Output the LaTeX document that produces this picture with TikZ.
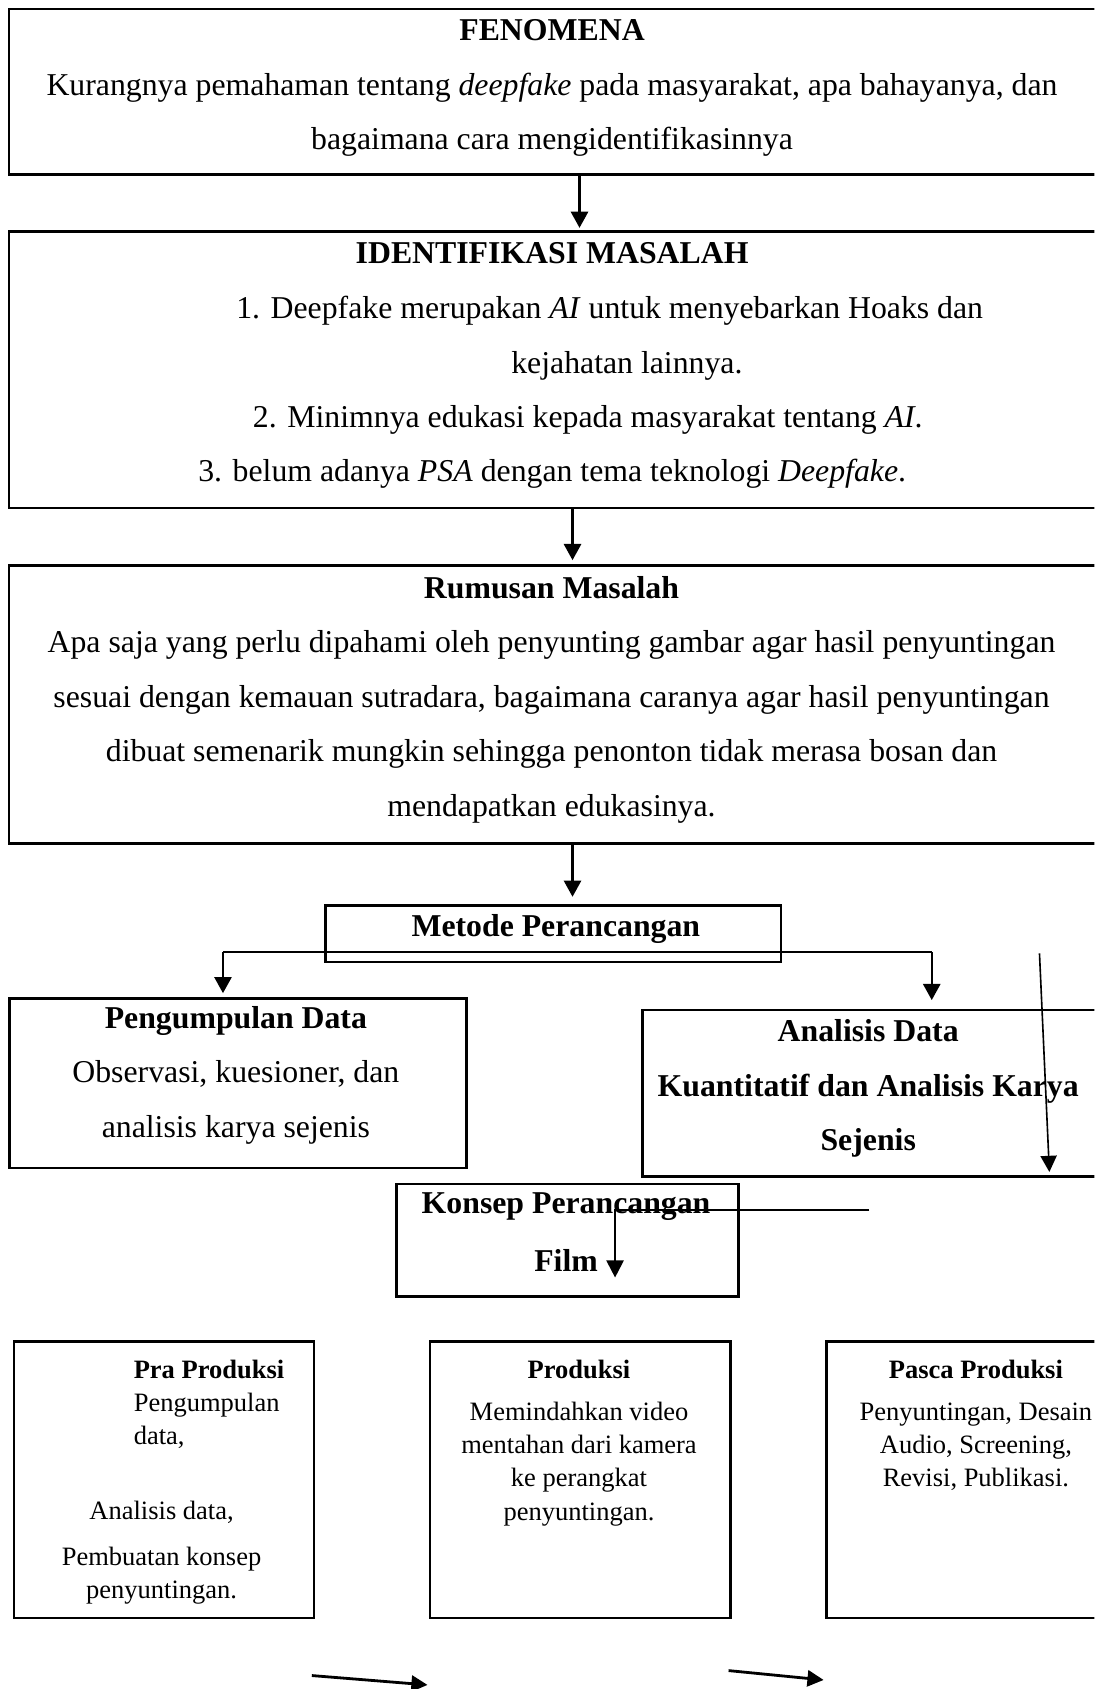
\documentclass[tikz,border=0pt]{standalone}
\usepackage{fontspec}
\setmainfont{Liberation Serif}
\usepackage{tikz}
\usetikzlibrary{arrows.meta, calc}
\tikzstyle{box} = [rectangle, draw=black, line width=2.4pt, inner sep=0pt, anchor=north west]
\tikzstyle{bigtext} = [inner sep=0pt, align=center, font=\fontsize{29.5}{50.5}\selectfont]
\tikzstyle{smalltext} = [inner sep=0pt, align=center, font=\fontsize{24.6}{31}\selectfont]
\tikzstyle{arrow} = [line width=2pt, -{Triangle[length=15pt, width=16pt]}]
\tikzstyle{line} = [line width=2pt]

\begin{document}
\begin{tikzpicture}[x=1pt, y=-1pt]
\useasboundingbox (0,0) rectangle (1016,1568);
\clip (0,0) rectangle (1016,1568);

\node (fenomena) [box, minimum width=1018pt, minimum height=154pt] at (7,7) {};
\node (identifikasi) [box, minimum width=1018pt, minimum height=257pt] at (7,213.5) {};
\node (rumusan) [box, minimum width=1018pt, minimum height=258pt] at (7,524) {};
\node (metode) [box, minimum width=423pt, minimum height=52.5pt] at (301,839.5) {};
\node (pengumpulan) [box, minimum width=424pt, minimum height=157pt] at (7.8,926) {};
\node (analisis) [box, minimum width=430pt, minimum height=154.6pt] at (595,936.4) {};
\node (konsep) [box, minimum width=317.5pt, minimum height=104.6pt] at (367,1098) {};
\node (pra) [box, minimum width=278.6pt, minimum height=256.3pt] at (11.7,1244.4) {};
\node (produksi) [box, minimum width=279.2pt, minimum height=256.3pt] at (398,1244.4) {};
\node (pasca) [box, minimum width=279pt, minimum height=256.3pt] at (766,1244.4) {};

% isi kotak
\node (fenomenatext) [bigtext, anchor=north] at (512.5,18) {\textbf{FENOMENA}\\Kurangnya pemahaman tentang \textit{deepfake} pada masyarakat, apa bahayanya, dan\\bagaimana cara mengidentifikasinnya};
\node (idtitle) [bigtext, anchor=base] at (512.6,245) {\textbf{IDENTIFIKASI MASALAH}};
\node (idsatu) [bigtext, anchor=base] at (566,296) {1. Deepfake merupakan \textit{AI} untuk menyebarkan Hoaks dan};
\node (idsatub) [bigtext, anchor=base] at (582,346.5) {kejahatan lainnya.};
\node (iddua) [bigtext, anchor=base] at (545.7,397) {2. Minimnya edukasi kepada masyarakat tentang \textit{AI}.};
\node (idtiga) [bigtext, anchor=base] at (512.6,447) {3. belum adanya \textit{PSA} dengan tema teknologi \textit{Deepfake}.};
\node (rumusantext) [bigtext, anchor=north] at (512,535) {\textbf{Rumusan Masalah}\\Apa saja yang perlu dipahami oleh penyunting gambar agar hasil penyuntingan\\sesuai dengan kemauan sutradara, bagaimana caranya agar hasil penyuntingan\\dibuat semenarik mungkin sehingga penonton tidak merasa bosan dan\\mendapatkan edukasinya.};
\node (metodetext) [bigtext, anchor=base] at (516,869) {\textbf{Metode Perancangan}};
\node (pengumpulantext) [bigtext, anchor=north] at (219,934) {\textbf{Pengumpulan Data}\\Observasi, kuesioner, dan\\analisis karya sejenis};
\node (analisistext) [bigtext, anchor=north] at (806,946.4) {\textbf{Analisis Data}\\\textbf{Kuantitatif dan Analisis Karya}\\\textbf{Sejenis}};
\node (konseptext) [bigtext, anchor=north] at (525.5,1107.3) {\textbf{Konsep Perancangan}\\[3pt]\textbf{Film}};
\node (pratext) [smalltext, align=left, anchor=north west] at (124,1262) {\textbf{Pra Produksi}\\Pengumpulan\\data,};
\node (pratextb) [smalltext, anchor=north] at (150,1393) {Analisis data,\\[12pt]Pembuatan konsep\\penyuntingan.};
\node (produksitext) [smalltext, anchor=north] at (537.5,1262) {\textbf{Produksi}\\[8pt]Memindahkan video\\mentahan dari kamera\\ke perangkat\\penyuntingan.};
\node (pascatext) [smalltext, anchor=north] at (906,1262) {\textbf{Pasca Produksi}\\[8pt]Penyuntingan, Desain\\Audio, Screening,\\Revisi, Publikasi.};

% panah
\coordinate (xa) at (538,0);
\coordinate (xb) at (531.5,0);
\draw [arrow, shorten >=2pt] (fenomena.south -| xa) -- (identifikasi.north -| xa);
\draw [arrow, shorten >=4pt] (identifikasi.south -| xb) -- (rumusan.north -| xb);
\draw [arrow, shorten >=7pt] (rumusan.south -| xb) -- (metode.north -| xb);

\coordinate (splitkiri) at (207,884);
\coordinate (splitkanan) at (865,884);
\draw [line] (splitkiri) -- (splitkanan);
\draw [arrow, shorten >=4pt] (splitkiri) -- (splitkiri |- pengumpulan.north);
\draw [arrow, shorten >=8pt] (splitkanan) -- (splitkanan |- analisis.north);

\coordinate (miringatas) at (965,885);
\coordinate (miringbawah) at (974.2,1088);
\draw [line width=1.5pt, -{Triangle[length=15pt, width=15pt]}] (miringatas) -- (miringbawah);

\coordinate (konsepkanan) at (807,1123);
\coordinate (konsepbelok) at (571,1123);
\coordinate (konsepujung) at (571,1186);
\draw [line width=2pt, -{Triangle[length=16pt, width=16pt]}] (konsepkanan) -- (konsepbelok) -- (konsepujung);

\coordinate (bawahsatu) at (289.5,1555.5);
\coordinate (bawahsatuujung) at (396.9,1564.2);
\coordinate (bawahdua) at (676.4,1550.9);
\coordinate (bawahduaujung) at (764.6,1559.6);
\draw [line width=2.6pt, -{Triangle[length=15pt, width=15pt]}] (bawahsatu) -- (bawahsatuujung);
\draw [line width=2.6pt, -{Triangle[length=15pt, width=15pt]}] (bawahdua) -- (bawahduaujung);

\end{tikzpicture}
\end{document}
